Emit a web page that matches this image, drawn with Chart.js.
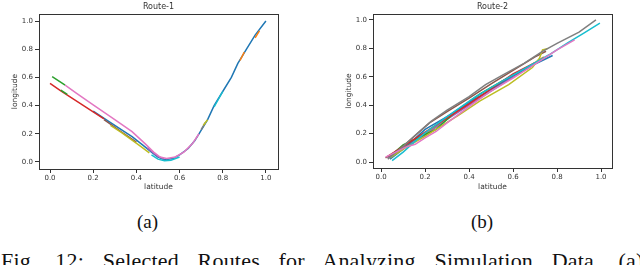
<!DOCTYPE html>
<html>
<head>
<meta charset="utf-8">
<script src="https://cdn.jsdelivr.net/npm/chart.js@4"></script>
<style>
  body { margin: 0; background: #fff; width: 640px; height: 265px; overflow: hidden; position: relative; }
  #c1 { position: absolute; left: 0; top: 0; }
  #c2 { position: absolute; left: 320px; top: 0; }
  .sub { position: absolute; top: 211px; font: 19px "Liberation Serif", serif; color: #111; }
  .cap { position: absolute; left: 1px; top: 248px; font: 22px "Liberation Serif", serif; color: #111; white-space: nowrap; word-spacing: 13px; letter-spacing: 0.2px; }
</style>
</head>
<body>
<canvas id="c1" width="320" height="200"></canvas>
<canvas id="c2" width="320" height="200"></canvas>
<div class="sub" style="left:137px">(a)</div>
<div class="sub" style="left:471px">(b)</div>
<div class="cap">Fig. 12: Selected Routes for Analyzing Simulation Data. (a)</div>
<script>
// tick labels shared by both panels
const tickVals = [0.0, 0.2, 0.4, 0.6, 0.8, 1.0];

// Route-1 trajectories [latitude, longitude], null = gap
const r1Pink = [[0.07,0.545],[0.12,0.49],[0.2,0.405],[0.3,0.30],[0.38,0.215],[0.44,0.13],[0.48,0.07],[0.51,0.035],[0.54,0.025],[0.58,0.035],[0.62,0.07],[0.66,0.13],[0.69,0.2]];
const r1Green = [[0.01,0.605],[0.07,0.545],[0.07,null],[0.05,0.51],[0.08,0.48]];
const r1Red = [[0.0,0.558],[0.05,0.505],[0.1,0.455],[0.15,0.405],[0.2,0.355],[0.25,0.305]];
const r1Olive = [[0.28,0.26],[0.33,0.21],[0.38,0.155],[0.42,0.11],[0.46,0.065],[0.46,null],[0.71,0.26],[0.73,0.3]];
const r1Brown = [[0.25,0.3],[0.32,0.225],[0.4,0.14]];
const r1Cyan = [[0.47,0.05],[0.5,0.02],[0.53,0.008],[0.56,0.012],[0.6,0.035],[0.6,null],[0.76,0.39],[0.8,0.5]];
const r1Orange = [[0.88,0.72],[0.9,0.78],[0.9,null],[0.95,0.88],[0.97,0.93]];
const r1Gray = [[0.7,0.23],[0.72,0.28]];
const r1Purple = [[0.45,0.1],[0.5,0.04],[0.53,0.02]];
const r1Blue = [[0.2,0.36],[0.27,0.29],[0.33,0.23],[0.38,0.18],[0.43,0.12],[0.47,0.07],[0.5,0.035],[0.53,0.015],[0.57,0.025],[0.6,0.05],[0.64,0.095],[0.67,0.15],[0.69,0.2],[0.73,0.3],[0.76,0.4],[0.8,0.5],[0.84,0.6],[0.87,0.7],[0.91,0.8],[0.95,0.9],[1.0,1.0]];

// Route-2 trajectories
const r2Gray = [[0.03,0.02],[0.1,0.11],[0.17,0.21],[0.23,0.29],[0.3,0.365],[0.4,0.46],[0.475,0.545],[0.55,0.61],[0.65,0.695],[0.73,0.775],[0.8,0.835],[0.9,0.915],[0.977,1.0]];
const r2Brown = [[0.02,0.03],[0.08,0.085],[0.15,0.18],[0.22,0.275],[0.3,0.355],[0.4,0.45],[0.5,0.55],[0.6,0.645],[0.7,0.74],[0.75,0.78]];
const r2Cyan = [[0.05,0.01],[0.1,0.07],[0.15,0.14],[0.2,0.205],[0.3,0.32],[0.43,0.46],[0.55,0.57],[0.65,0.655],[0.764,0.755],[0.85,0.84],[0.92,0.905],[0.995,0.977]];
const r2Olive = [[0.04,0.03],[0.12,0.11],[0.2,0.18],[0.28,0.26],[0.353,0.33],[0.45,0.43],[0.58,0.545],[0.688,0.665],[0.72,0.73],[0.734,0.79],[0.76,0.8]];
const r2Pink = [[0.02,0.035],[0.08,0.08],[0.12,0.11],[0.155,0.125],[0.2,0.17],[0.25,0.215],[0.3,0.275],[0.4,0.39],[0.5,0.5],[0.6,0.59],[0.7,0.69],[0.8,0.79],[0.88,0.86]];
const r2Red = [[0.03,0.04],[0.1,0.11],[0.2,0.21],[0.3,0.31],[0.4,0.41],[0.5,0.515],[0.6,0.62],[0.7,0.7]];
const r2Blue = [[0.04,0.02],[0.1,0.09],[0.2,0.23],[0.3,0.32],[0.4,0.42],[0.5,0.51],[0.6,0.61],[0.7,0.69],[0.78,0.75]];
const r2Green = [[0.04,0.04],[0.1,0.12],[0.18,0.18],[0.25,0.23],[0.35,0.37],[0.45,0.48],[0.55,0.57],[0.65,0.65]];
const r2Purple = [[0.03,0.03],[0.1,0.1],[0.2,0.19],[0.3,0.3],[0.4,0.4],[0.5,0.5],[0.6,0.6],[0.68,0.67]];
const r2Orange = [[0.03,0.035],[0.13,0.13],[0.22,0.22],[0.33,0.34],[0.45,0.46],[0.55,0.55],[0.65,0.65],[0.74,0.74]];

const C = {
  blue: "#1f77b4", orange: "#ff7f0e", green: "#2ca02c", red: "#d62728", purple: "#9467bd",
  brown: "#8c564b", pink: "#e377c2", gray: "#7f7f7f", olive: "#bcbd22", cyan: "#17becf"
};

function ds(pts, color) {
  return {
    data: pts.map(p => ({ x: p[0], y: p[1] })),
    borderColor: color,
    borderWidth: 1.5,
    showLine: true,
    pointRadius: 0,
    spanGaps: false
  };
}

const frame = {
  id: "frame",
  afterDraw(chart) {
    const { ctx, chartArea: a } = chart;
    ctx.save();
    ctx.strokeStyle = "#333";
    ctx.lineWidth = 1;
    ctx.strokeRect(Math.round(a.left) + 0.5, Math.round(a.top) + 0.5, Math.round(a.right - a.left), Math.round(a.bottom - a.top));
    ctx.restore();
  }
};

function makeChart(id, title, datasets, o) {
  const tickFont = { family: "DejaVu Sans", size: 7 };
  const setTicks = axis => { axis.ticks = tickVals.map(v => ({ value: v })); };
  new Chart(document.getElementById(id), {
    type: "scatter",
    data: { datasets: datasets },
    options: {
      responsive: false,
      animation: false,
      layout: { padding: { left: o.padLeft, right: o.padRight, top: 0, bottom: 0 } },
      plugins: {
        legend: { display: false },
        tooltip: { enabled: false },
        title: {
          display: true, text: title, fullSize: false, color: "#333",
          font: { family: "DejaVu Sans", size: 8, weight: "normal" },
          padding: { top: 1.8, bottom: 2.6 }
        }
      },
      scales: {
        x: {
          type: "linear", min: o.xMin, max: o.xMax,
          afterBuildTicks: setTicks,
          afterFit: s => { s.height = o.xHeight; },
          grid: { drawOnChartArea: false, tickLength: 4, color: "#333" },
          border: { color: "#333" },
          ticks: { font: tickFont, color: "#333", padding: 1, maxRotation: 0, callback: v => v.toFixed(1) },
          title: { display: true, text: "latitude", color: "#333", font: { family: "DejaVu Sans", size: 7.5 }, padding: { top: 0, bottom: o.xTitlePad } }
        },
        y: {
          type: "linear", min: o.yMin, max: o.yMax,
          afterBuildTicks: setTicks,
          afterFit: s => { s.width = o.yWidth; },
          grid: { drawOnChartArea: false, tickLength: 4, color: "#333" },
          border: { color: "#333" },
          ticks: { font: tickFont, color: "#333", padding: 2, callback: v => v.toFixed(1) },
          title: { display: true, text: "longitude", color: "#333", font: { family: "DejaVu Sans", size: 7.5 }, padding: { top: o.yTitlePad, bottom: 0 } }
        }
      }
    },
    plugins: [frame]
  });
}

makeChart("c1", "Route-1", [
  ds(r1Pink, C.pink), ds(r1Green, C.green), ds(r1Red, C.red), ds(r1Cyan, C.cyan),
  ds(r1Olive, C.olive), ds(r1Orange, C.orange), ds(r1Gray, C.gray), ds(r1Purple, C.purple),
  ds(r1Brown, C.brown), ds(r1Blue, C.blue)
], { padLeft: 0, padRight: 42, xHeight: 31, yWidth: 39, xMin: -0.051, xMax: 1.056, yMin: -0.05, yMax: 1.05, xTitlePad: 8.5, yTitlePad: 10.5 });

makeChart("c2", "Route-2", [
  ds(r2Pink, C.pink), ds(r2Gray, C.gray), ds(r2Cyan, C.cyan), ds(r2Olive, C.olive),
  ds(r2Brown, C.brown), ds(r2Red, C.red), ds(r2Blue, C.blue), ds(r2Green, C.green),
  ds(r2Purple, C.purple), ds(r2Orange, C.orange)
], { padLeft: 20, padRight: 28, xHeight: 32, yWidth: 33, xMin: -0.037, xMax: 1.05, yMin: -0.042, yMax: 1.042, xTitlePad: 8, yTitlePad: 4.5 });
</script>
</body>
</html>
